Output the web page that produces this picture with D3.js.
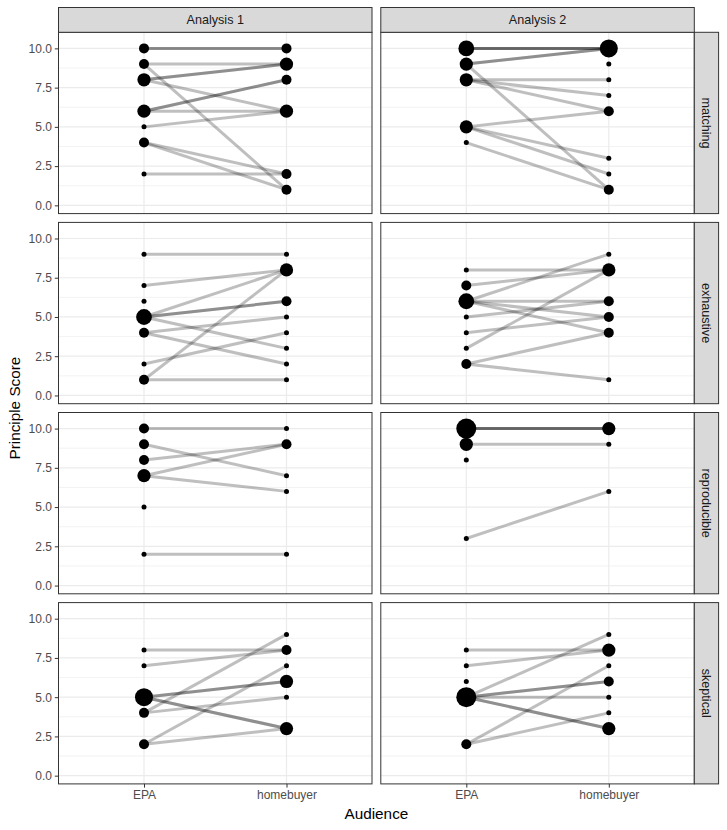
<!DOCTYPE html>
<html>
<head>
<meta charset="utf-8">
<script src="https://cdn.jsdelivr.net/npm/d3@7"></script>
<style>
  body { margin: 0; background: #fff; }
  text { font-family: "Liberation Sans", Arial, sans-serif; }
</style>
</head>
<body>
<svg id="chart" width="727" height="830"></svg>
<script>
// facets and axis categories
const analyses = ["Analysis 1", "Analysis 2"];
const principles = ["matching", "exhaustive", "reproducible", "skeptical"];
const audiences = ["EPA", "homebuyer"];
const yTicks = [0, 2.5, 5, 7.5, 10];
const yMinor = [1.25, 3.75, 6.25, 8.75];

// each pair is [EPA score, homebuyer score]; null = not scored for that audience
const matching1 = [[10,10],[10,10],[9,9],[9,1],[8,9],[8,9],[8,6],[6,8],[6,8],[6,6],[5,6],[4,2],[4,1],[2,2]];
const matching2 = [[10,10],[10,10],[10,10],[10,null],[9,10],[9,10],[9,1],[8,8],[8,7],[8,6],[5,6],[5,3],[5,2],[4,1],[null,9]];
const exhaustive1 = [[9,9],[7,8],[6,null],[5,8],[5,6],[5,6],[5,3],[4,5],[4,2],[2,4],[1,8],[1,1]];
const exhaustive2 = [[8,8],[7,8],[7,null],[6,9],[6,6],[6,5],[6,4],[5,6],[4,5],[3,8],[2,4],[2,1]];
const reproducible1 = [[10,10],[10,null],[9,7],[9,null],[8,9],[8,null],[7,9],[7,6],[7,null],[5,null],[2,2]];
const reproducible2 = [[10,10],[10,10],[10,10],[10,null],[10,null],[10,null],[9,9],[9,null],[9,null],[8,null],[3,6]];
const skeptical1 = [[8,8],[7,8],[5,6],[5,6],[5,3],[5,3],[5,null],[4,9],[4,5],[2,7],[2,3],[null,6]];
const skeptical2 = [[8,8],[7,8],[6,null],[5,9],[5,6],[5,6],[5,5],[5,3],[5,3],[2,7],[2,4],[null,8],[null,3]];

const panelPairs = {
  matching: [matching1, matching2],
  exhaustive: [exhaustive1, exhaustive2],
  reproducible: [reproducible1, reproducible2],
  skeptical: [skeptical1, skeptical2]
};

const svg = d3.select("#chart");
const left0 = 58.5, top0 = 32.3;
const panelW = 313.5, panelH = 181.3, gap = 8.8;
const stripH = 24.8, stripW = 24.3;
const axisFont = "12px", stripFont = "12.6px", titleFont = "15.3px";

const x = d3.scalePoint().domain(audiences).range([0, panelW]).padding(0.6);
const y = d3.scaleLinear().domain([-0.525, 11.025]).range([panelH, 0]);
// area grows linearly with the count, like ggplot's size scale
const r = d3.scaleRadial().domain([1, 2]).range([2.5, 5]);
const fmt = d3.format(".1f");

principles.forEach((p, row) => {
  analyses.forEach((a, col) => {
    const px = left0 + col * (panelW + gap);
    const py = top0 + row * (panelH + gap);
    const g = svg.append("g").attr("transform", `translate(${px},${py})`);
    const pairs = panelPairs[p][col];

    // grid
    g.selectAll(".minor").data(yMinor).join("line")
      .attr("x1", 0).attr("x2", panelW)
      .attr("y1", d => y(d)).attr("y2", d => y(d))
      .attr("stroke", "#ebebeb").attr("stroke-width", 0.6);
    g.selectAll(".major").data(yTicks).join("line")
      .attr("x1", 0).attr("x2", panelW)
      .attr("y1", d => y(d)).attr("y2", d => y(d))
      .attr("stroke", "#ebebeb").attr("stroke-width", 1.2);
    g.selectAll(".vmajor").data(audiences).join("line")
      .attr("x1", d => x(d)).attr("x2", d => x(d))
      .attr("y1", 0).attr("y2", panelH)
      .attr("stroke", "#ebebeb").attr("stroke-width", 1.2);

    // connecting lines
    g.selectAll(".pair").data(pairs.filter(d => d[0] != null && d[1] != null)).join("line")
      .attr("x1", x("EPA")).attr("x2", x("homebuyer"))
      .attr("y1", d => y(d[0])).attr("y2", d => y(d[1]))
      .attr("stroke", "#000").attr("stroke-opacity", 0.25).attr("stroke-width", 3);

    // counted points
    const pts = [];
    audiences.forEach((aud, i) => {
      const counts = d3.rollup(pairs.filter(d => d[i] != null), v => v.length, d => d[i]);
      counts.forEach((n, score) => pts.push({aud, score, n}));
    });
    g.selectAll(".pt").data(pts).join("circle")
      .attr("cx", d => x(d.aud)).attr("cy", d => y(d.score))
      .attr("r", d => r(d.n)).attr("fill", "#000");

    // border
    g.append("rect").attr("width", panelW).attr("height", panelH)
      .attr("fill", "none").attr("stroke", "#333").attr("stroke-width", 1);

    // y axis on first column
    if (col === 0) {
      const ax = g.append("g").call(d3.axisLeft(y).tickValues(yTicks).tickFormat(fmt).tickSize(3.7).tickPadding(2.9));
      ax.select(".domain").remove();
      ax.selectAll("line").attr("stroke", "#333");
      ax.selectAll("text").attr("fill", "#4d4d4d").style("font-size", axisFont)
        .style("font-family", '"Liberation Sans", Arial, sans-serif');
    }
    // x axis on last row
    if (row === principles.length - 1) {
      const ax = g.append("g").attr("transform", `translate(0,${panelH})`)
        .call(d3.axisBottom(x).tickSize(3.7).tickPadding(2.9));
      ax.select(".domain").remove();
      ax.selectAll("line").attr("stroke", "#333");
      ax.selectAll("text").attr("fill", "#4d4d4d").style("font-size", axisFont)
        .style("font-family", '"Liberation Sans", Arial, sans-serif');
    }
  });

  // right strip
  const sx = left0 + 2 * panelW + gap;
  const sy = top0 + row * (panelH + gap);
  svg.append("rect").attr("x", sx).attr("y", sy).attr("width", stripW).attr("height", panelH)
    .attr("fill", "#d9d9d9").attr("stroke", "#333").attr("stroke-width", 1);
  svg.append("text")
    .attr("transform", `translate(${sx + stripW / 2},${sy + panelH / 2}) rotate(90)`)
    .attr("text-anchor", "middle").attr("dy", "0.35em")
    .attr("fill", "#1a1a1a").style("font-size", stripFont).text(p);
});

// top strips
analyses.forEach((a, col) => {
  const sx = left0 + col * (panelW + gap);
  svg.append("rect").attr("x", sx).attr("y", top0 - stripH).attr("width", panelW).attr("height", stripH)
    .attr("fill", "#d9d9d9").attr("stroke", "#333").attr("stroke-width", 1);
  svg.append("text").attr("x", sx + panelW / 2).attr("y", top0 - stripH / 2)
    .attr("text-anchor", "middle").attr("dy", "0.35em")
    .attr("fill", "#1a1a1a").style("font-size", stripFont).text(a);
});

// axis titles
const totalH = principles.length * panelH + (principles.length - 1) * gap;
svg.append("text")
  .attr("transform", `translate(20,${top0 + totalH / 2}) rotate(-90)`)
  .attr("text-anchor", "middle").style("font-size", titleFont).attr("fill", "#000")
  .text("Principle Score");
svg.append("text")
  .attr("x", left0 + panelW + gap / 2).attr("y", 818.8)
  .attr("text-anchor", "middle").style("font-size", titleFont).attr("fill", "#000")
  .text("Audience");
</script>
</body>
</html>
